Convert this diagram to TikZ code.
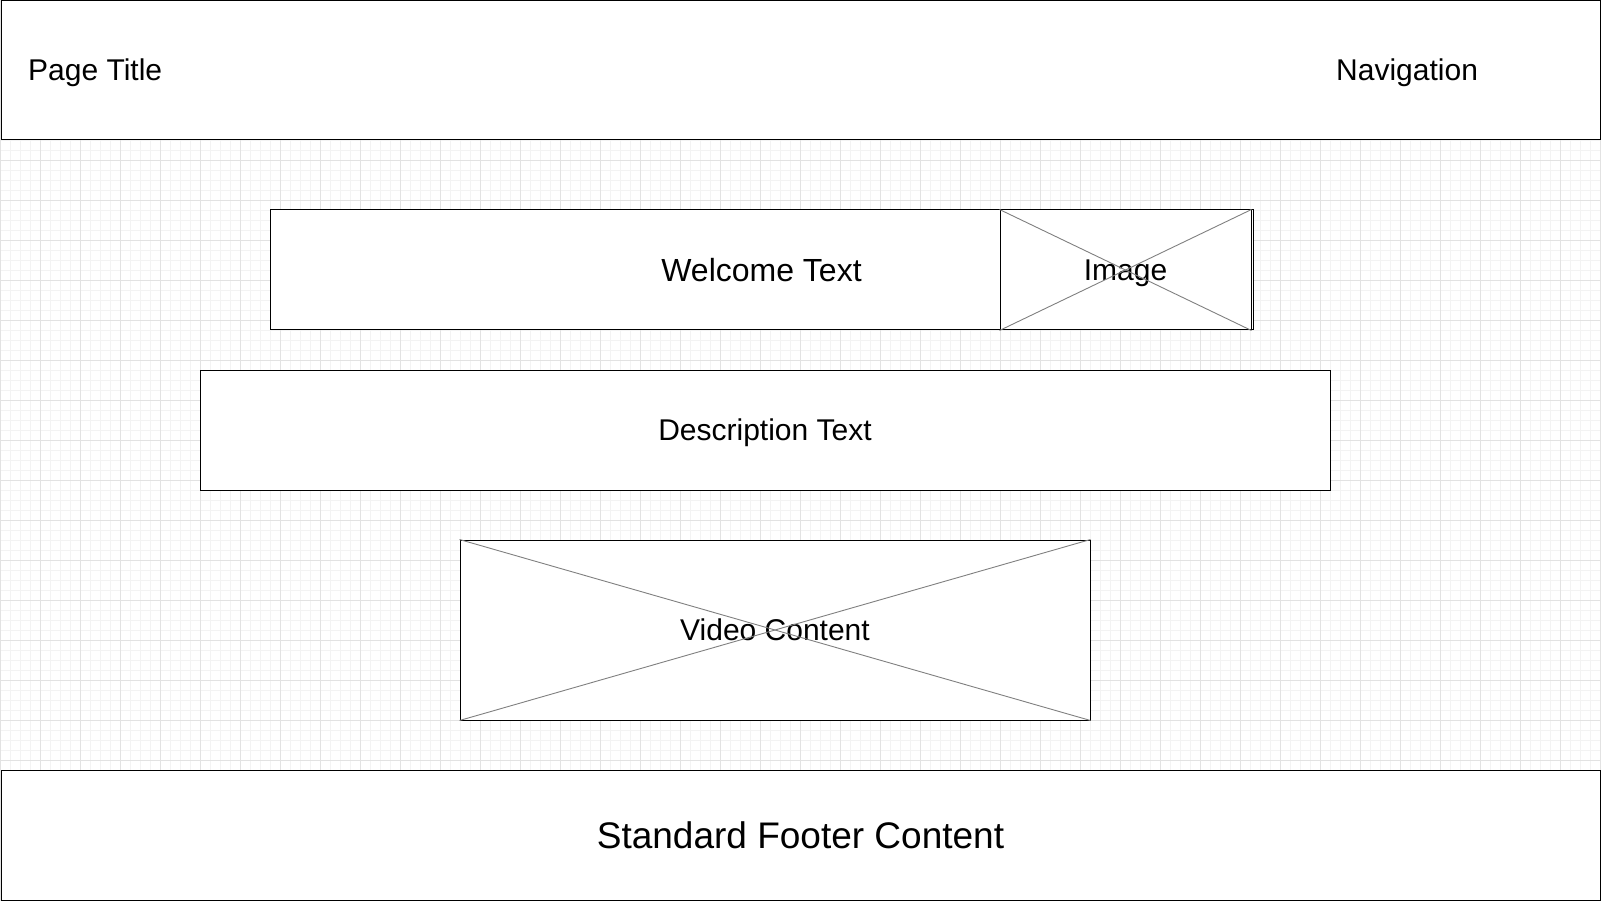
\documentclass[tikz,border=0pt]{standalone}
\usepackage{fontspec}
\setmainfont{Liberation Sans}

\begin{document}
\begin{tikzpicture}[
        x=1pt, y=-1pt,
        block/.style={rectangle, draw, fill=white, line width=1pt, inner sep=0pt, text depth=0pt, font=\fontsize{30}{36}\selectfont},
        tag/.style={inner sep=0pt, text depth=0pt, font=\fontsize{30}{36}\selectfont},
        cross/.style={draw=gray, line width=0.9pt},
        gridminor/.style={draw={rgb,255:red,243;green,243;blue,243}, line width=0.8pt},
        gridmajor/.style={draw={rgb,255:red,226;green,226;blue,226}, line width=0.9pt}
    ]
        \useasboundingbox (0,0) rectangle (1601,901);
        \fill[white] (0,0) rectangle (1601,901);

        % Grid
        \foreach \g in {0,10,...,1600} \draw[gridminor] (\g,0) -- (\g,901);
        \foreach \g in {0,10,...,900} \draw[gridminor] (0,\g) -- (1601,\g);
        \foreach \g in {0,40,...,1600} \draw[gridmajor] (\g,0) -- (\g,901);
        \foreach \g in {0,40,...,900} \draw[gridmajor] (0,\g) -- (1601,\g);

        % Header and footer
        \node[block, minimum width=1599pt, minimum height=139pt] (header) at (800.5,70.5) {};
        \node[tag, anchor=west] (title) at (28,70) {Page Title};
        \node[tag, anchor=west] (nav) at (1336,70) {Navigation};
        \node[block, minimum width=1599pt, minimum height=130pt, font=\fontsize{37}{44}\selectfont] (footer) at (800.5,835) {Standard Footer Content};

        % Blocks
        \node[block, minimum width=983pt, minimum height=120pt, font=\fontsize{32}{38}\selectfont] (welcome) at (761.5,270) {Welcome Text};
        \node[block, minimum width=251pt, minimum height=120pt] (image) at (1125.5,270) {Image};
        \node[block, minimum width=1130pt, minimum height=120pt] (desc) at (765,430) {Description Text};
        \node[block, minimum width=630pt, minimum height=180pt] (video) at (775,630) {Video Content};

        % Placeholders
        \draw[cross] (image.north west) -- (image.south east);
        \draw[cross] (image.south west) -- (image.north east);
        \draw[cross] (video.north west) -- (video.south east);
        \draw[cross] (video.south west) -- (video.north east);

    \end{tikzpicture}
\end{document}
